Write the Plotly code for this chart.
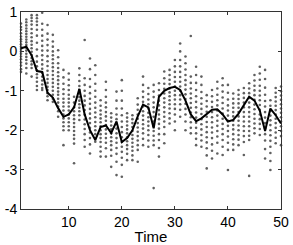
import plotly.graph_objects as go

time = list(range(1, 51))

mean_line = [0.08, 0.12, -0.10, -0.50, -0.52, -1.05, -1.17, -1.44, -1.66, -1.60,
             -1.42, -0.95, -1.60, -2.00, -2.25, -1.92, -1.88, -2.07, -1.78, -2.30,
             -2.20, -2.00, -1.65, -1.35, -1.42, -1.95, -1.15, -1.00, -0.93, -0.90,
             -0.98, -1.25, -1.60, -1.77, -1.70, -1.60, -1.48, -1.47, -1.60, -1.78,
             -1.74, -1.58, -1.38, -1.15, -1.25, -1.50, -2.02, -1.45, -1.62, -1.83]

samples = [
    [0.71, 0.62, 0.55, 0.46, 0.38, 0.31, 0.25, 0.18, 0.12, 0.06, 0.0, -0.06, -0.13, -0.2, -0.28, -0.36, -0.45, -0.52],
    [0.81, 0.74, 0.66, 0.58, 0.51, 0.44, 0.37, 0.3, 0.23, 0.16, 0.09, 0.02, -0.06, -0.14, -0.22, -0.31, -0.42, -0.56],
    [0.92, 0.85, 0.77, 0.68, 0.57, 0.46, 0.36, 0.26, 0.17, 0.08, -0.01, -0.09, -0.17, -0.25, -0.33, -0.42, -0.64],
    [0.92, 0.84, 0.76, 0.67, 0.55, 0.4, 0.22, 0.05, -0.12, -0.26, -0.38, -0.48, -0.58, -0.67, -0.77, -0.88, -0.98],
    [0.98, 0.7, 0.55, 0.4, 0.27, 0.14, 0.02, -0.1, -0.22, -0.33, -0.44, -0.54, -0.64, -0.74, -0.84, -0.93, -0.98],
    [0.67, 0.45, 0.3, 0.16, 0.02, -0.12, -0.25, -0.37, -0.49, -0.6, -0.7, -0.8, -0.9, -0.98, -1.06, -1.14, -1.24],
    [0.42, 0.25, 0.12, 0.0, -0.1, -0.2, -0.3, -0.4, -0.5, -0.6, -0.7, -0.8, -0.9, -1.0, -1.1, -1.2, -1.28],
    [0.03, -0.15, -0.3, -0.42, -0.53, -0.63, -0.73, -0.83, -0.93, -1.02, -1.1, -1.2, -1.3, -1.4, -1.52, -1.66],
    [-0.47, -0.66, -0.82, -0.96, -1.08, -1.2, -1.3, -1.4, -1.5, -1.6, -1.7, -1.8, -1.9, -2.0, -2.38],
    [-0.56, -0.72, -0.86, -0.98, -1.1, -1.2, -1.3, -1.4, -1.5, -1.6, -1.7, -1.8, -1.9, -2.0],
    [-1.15, -1.3, -1.42, -1.52, -1.62, -1.72, -1.82, -1.92, -2.02, -2.12, -2.22, -2.34, -2.84],
    [-0.43, -0.6, -0.75, -0.88, -0.98, -1.07, -1.16, -1.25, -1.34, -1.43, -1.52, -1.62, -1.74],
    [0.29, -0.68, -0.85, -1.0, -1.13, -1.25, -1.37, -1.49, -1.61, -1.73, -1.85, -1.97, -2.1, -2.25, -2.42],
    [-0.18, -0.45, -0.7, -0.9, -1.06, -1.2, -1.33, -1.46, -1.58, -1.7, -1.82, -1.94, -2.06, -2.2, -2.36, -2.59],
    [-0.35, -0.6, -0.82, -1.0, -1.15, -1.3, -1.43, -1.55, -1.67, -1.79, -1.9, -2.0, -2.1, -2.2, -2.29],
    [-1.24, -1.38, -1.5, -1.6, -1.7, -1.8, -1.9, -2.0, -2.1, -2.2, -2.3, -2.42, -2.54, -2.67],
    [-0.77, -0.98, -1.15, -1.3, -1.42, -1.54, -1.65, -1.76, -1.87, -1.98, -2.09, -2.2, -2.32, -2.46, -2.67],
    [-1.57, -1.68, -1.78, -1.88, -1.98, -2.08, -2.18, -2.28, -2.38, -2.5, -2.65, -2.93],
    [-1.02, -1.25, -1.45, -1.6, -1.72, -1.84, -1.96, -2.08, -2.2, -2.32, -2.45, -2.6, -2.8, -3.14],
    [-0.73, -1.0, -1.25, -1.45, -1.62, -1.78, -1.92, -2.05, -2.18, -2.3, -2.42, -2.55, -2.7, -2.88, -3.18],
    [-1.57, -1.68, -1.78, -1.88, -1.98, -2.08, -2.18, -2.28, -2.38, -2.48, -2.6, -2.76],
    [-1.62, -1.72, -1.82, -1.92, -2.02, -2.12, -2.22, -2.32, -2.42, -2.52, -2.64, -2.76],
    [-1.19, -1.35, -1.48, -1.6, -1.71, -1.82, -1.93, -2.04, -2.15, -2.26, -2.38, -2.5, -2.8],
    [-0.64, -0.85, -1.02, -1.16, -1.28, -1.4, -1.52, -1.63, -1.74, -1.85, -1.96, -2.08, -2.22, -2.38],
    [-0.93, -1.08, -1.22, -1.34, -1.45, -1.56, -1.67, -1.78, -1.89, -2.0, -2.12, -2.26, -2.42],
    [-0.85, -1.02, -1.16, -1.3, -1.42, -1.54, -1.66, -1.78, -1.9, -2.02, -2.14, -2.26, -2.38, -3.47],
    [-0.81, -0.98, -1.12, -1.25, -1.37, -1.49, -1.6, -1.72, -1.84, -1.96, -2.1, -2.25, -2.45, -2.67],
    [-0.51, -0.68, -0.82, -0.95, -1.07, -1.19, -1.3, -1.42, -1.54, -1.66, -1.78, -1.92, -2.1, -2.33],
    [-0.47, -0.6, -0.72, -0.83, -0.94, -1.04, -1.14, -1.24, -1.34, -1.45, -1.57, -1.7, -1.83],
    [-0.22, -0.38, -0.52, -0.65, -0.77, -0.89, -1.0, -1.11, -1.22, -1.34, -1.46, -1.6, -1.78, -2.0],
    [0.2, 0.0, -0.22, -0.38, -0.52, -0.65, -0.77, -0.89, -1.0, -1.11, -1.22, -1.34, -1.48, -1.66],
    [-0.13, -0.3, -0.46, -0.6, -0.73, -0.85, -0.97, -1.09, -1.21, -1.33, -1.46, -1.6, -1.78, -2.0],
    [0.39, -0.64, -0.8, -0.94, -1.07, -1.19, -1.31, -1.43, -1.55, -1.67, -1.8, -1.94, -2.08],
    [-0.39, -0.6, -0.8, -0.98, -1.14, -1.28, -1.42, -1.55, -1.68, -1.81, -1.94, -2.08, -2.22, -2.38],
    [-0.64, -0.85, -1.03, -1.19, -1.33, -1.46, -1.59, -1.72, -1.85, -1.98, -2.12, -2.26, -2.42],
    [-1.11, -1.26, -1.4, -1.53, -1.66, -1.79, -1.92, -2.05, -2.18, -2.31, -2.46, -2.64, -2.97],
    [-0.98, -1.14, -1.28, -1.41, -1.54, -1.67, -1.8, -1.93, -2.06, -2.2, -2.36, -2.52, -2.72],
    [-0.77, -0.94, -1.1, -1.24, -1.37, -1.5, -1.63, -1.76, -1.89, -2.02, -2.16, -2.32, -2.59],
    [-0.68, -0.86, -1.02, -1.17, -1.31, -1.45, -1.58, -1.71, -1.84, -1.97, -2.1, -2.25, -2.42, -2.63],
    [-0.85, -1.05, -1.22, -1.37, -1.5, -1.63, -1.76, -1.89, -2.02, -2.16, -2.32, -2.5, -3.01],
    [-1.07, -1.2, -1.32, -1.43, -1.54, -1.65, -1.76, -1.87, -1.98, -2.1, -2.23, -2.36, -2.5],
    [-0.98, -1.1, -1.21, -1.32, -1.43, -1.54, -1.65, -1.76, -1.88, -2.0, -2.12, -2.24, -2.38],
    [-0.93, -1.06, -1.18, -1.3, -1.42, -1.54, -1.66, -1.78, -1.9, -2.02, -2.15, -2.3, -2.63],
    [-0.81, -0.94, -1.06, -1.18, -1.3, -1.42, -1.54, -1.66, -1.78, -1.9, -2.02, -2.14, -2.25, -3.16],
    [-0.6, -0.74, -0.87, -0.99, -1.11, -1.23, -1.35, -1.47, -1.59, -1.71, -1.83, -1.95, -2.08],
    [-0.39, -0.56, -0.72, -0.87, -1.0, -1.12, -1.24, -1.36, -1.48, -1.6, -1.72, -1.84, -1.97, -2.12],
    [-0.47, -0.7, -0.92, -1.1, -1.26, -1.4, -1.54, -1.68, -1.82, -1.96, -2.1, -2.26, -2.48, -2.72],
    [-1.24, -1.38, -1.51, -1.63, -1.75, -1.87, -2.0, -2.13, -2.27, -2.42, -2.58, -2.78, -3.01],
    [-0.93, -1.05, -1.16, -1.27, -1.38, -1.49, -1.6, -1.71, -1.82, -1.94, -2.06, -2.19, -2.33],
    [-0.89, -1.01, -1.12, -1.23, -1.34, -1.45, -1.56, -1.67, -1.78, -1.9, -2.02, -2.15, -2.38],
]

x_ticks = [10, 20, 30, 40, 50]
y_ticks = [1, 0, -1, -2, -3, -4]
y_tick_text = ["1", "0", "-1", "-2", "-3", "-4"]

sx, sy = [], []
for t, vals in zip(time, samples):
    for v in vals:
        sx.append(t)
        sy.append(v)

fig = go.Figure()
fig.add_trace(go.Scatter(x=sx, y=sy, mode="markers", cliponaxis=False,
                         marker=dict(size=2.6, color="#606060", line=dict(width=0)),
                         showlegend=False, hoverinfo="skip"))
fig.add_trace(go.Scatter(x=time, y=mean_line, mode="lines",
                         line=dict(color="black", width=2),
                         showlegend=False))

axis_common = dict(showline=True, linecolor="#333333", linewidth=1, mirror="ticks",
                   ticks="inside", ticklen=3, tickcolor="#333333", showgrid=False,
                   zeroline=False, automargin=False,
                   tickfont=dict(family="Liberation Sans", size=14, color="black"))

fig.update_layout(
    width=293, height=245,
    margin=dict(l=21, r=12, t=12, b=36),
    plot_bgcolor="white", paper_bgcolor="white",
    xaxis=dict(range=[1, 50], tickvals=x_ticks,
               title=dict(text="Time", font=dict(family="Liberation Sans", size=15, color="black"), standoff=0),
               **axis_common),
    yaxis=dict(range=[-4, 1], tickvals=y_ticks, ticktext=y_tick_text, ticklabelstandoff=0,
               **axis_common),
)

fig.write_html("out.html", config={"displayModeBar": False},
               post_script="document.body.style.margin='0';document.body.style.overflow='hidden';")
